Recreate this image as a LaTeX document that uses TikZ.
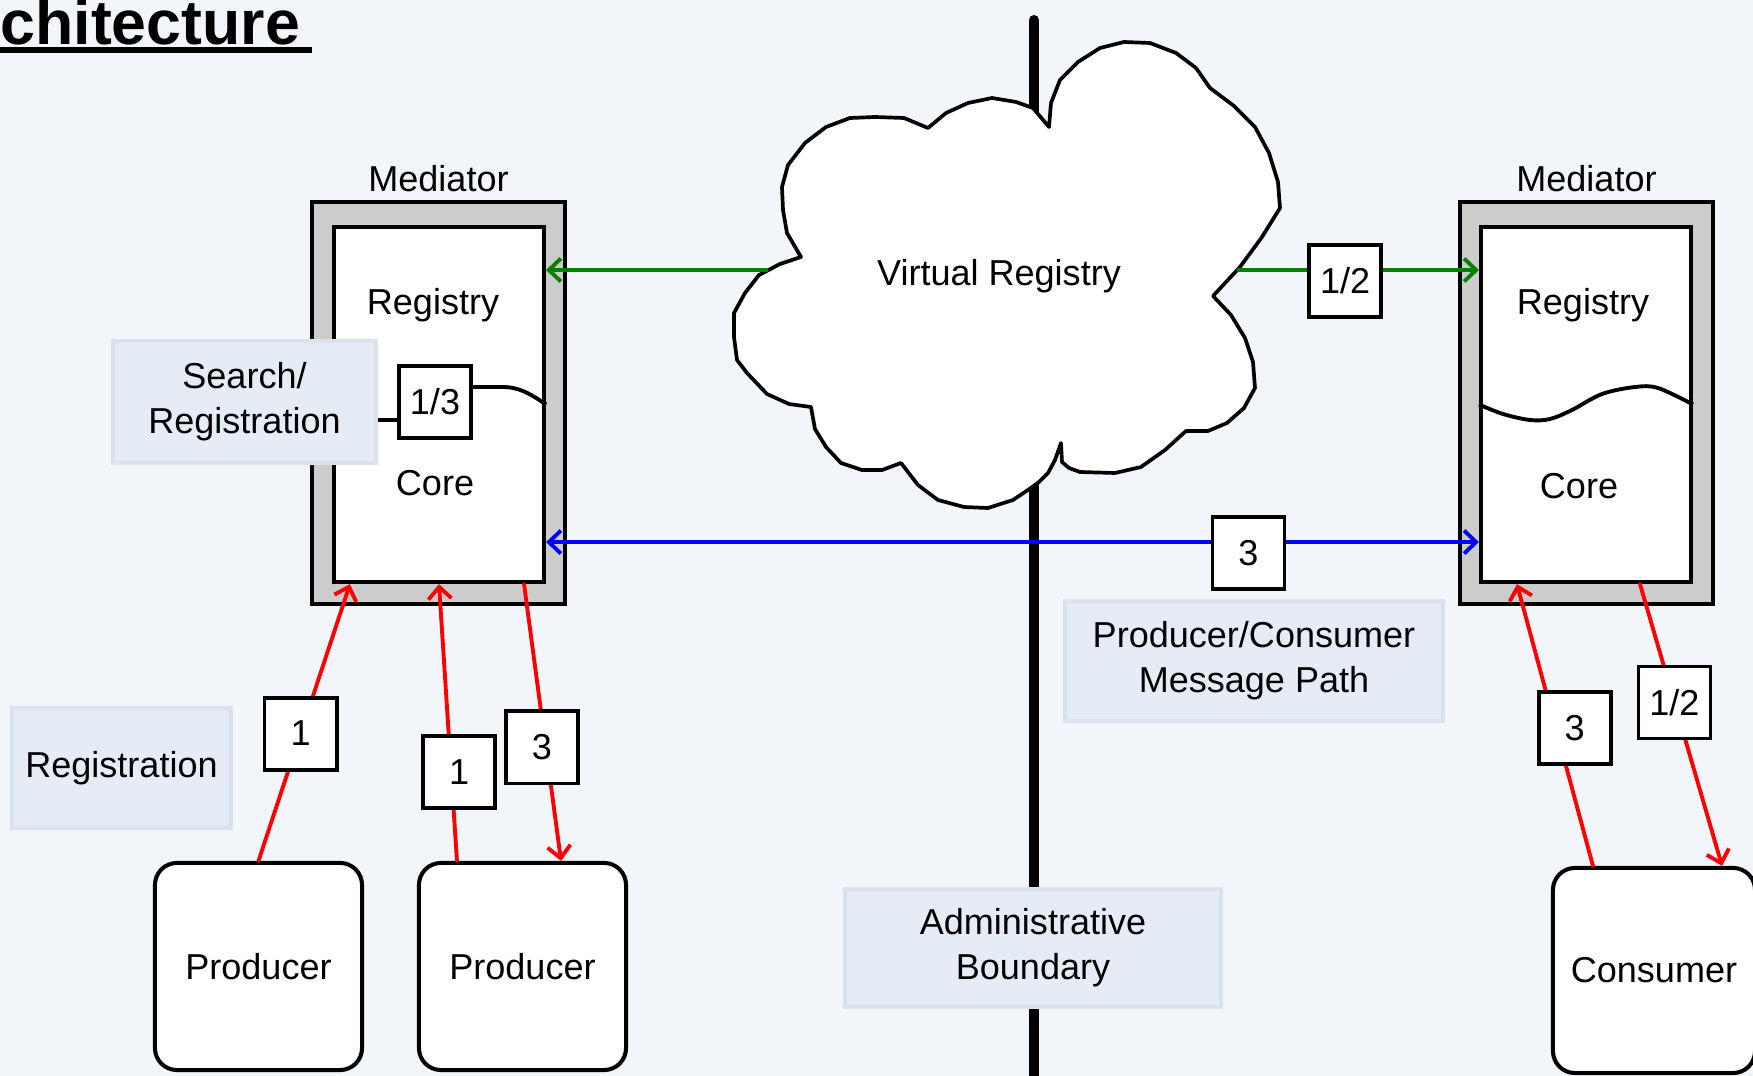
\documentclass[tikz,border=0pt]{standalone}
\usepackage{fontspec}
\setmainfont{Liberation Sans}
\usetikzlibrary{positioning, arrows.meta, calc}
\definecolor{paper}{HTML}{F2F5FA}
\definecolor{notefill}{HTML}{E6ECF6}
\definecolor{noteline}{HTML}{DAE2EF}
\definecolor{medgray}{HTML}{CCCCCC}
\definecolor{regreen}{HTML}{008000}
\tikzset{
  >={Straight Barb[length=1.2mm, width=2.3mm]},
  mediator/.style={draw, line width=1.15pt, fill=medgray, minimum width=2.53cm, minimum height=4.02cm},
  inner/.style={draw, line width=1.15pt, fill=white, minimum width=2.10cm, minimum height=3.55cm},
  numbox/.style={draw=black, text=black, line width=1.1pt, fill=white, minimum width=0.72cm, minimum height=0.72cm, inner sep=0pt},
  note/.style={draw=noteline, line width=1pt, fill=notefill, align=center, inner sep=0pt},
  endpoint/.style={draw, line width=1.15pt, fill=white, rounded corners=0.22cm, minimum width=2.07cm, minimum height=2.07cm},
  wave/.style={line width=1.1pt},
  msg/.style={line width=1.1pt, red, line cap=round},
  gflow/.style={line width=1.1pt, regreen},
  bflow/.style={line width=1.1pt, blue},
}

\begin{document}
\begin{tikzpicture}[x=0.01cm, y=-0.01cm, font=\fontsize{10.25pt}{12.7pt}\selectfont]
  \useasboundingbox (0,0) rectangle (1753,1076);
  \clip (0,0) rectangle (1753,1076);
  \fill[paper] (0,0) rectangle (1753,1076);

  \node[anchor=base west, inner sep=0pt, font=\fontsize{17.8pt}{20pt}\selectfont\bfseries] (title) at (0,45) {chitecture};
  \draw[line width=1.5pt] ([yshift=-0.05cm]title.base west) -- ++(312,0);

  \draw[line width=0.1cm, line cap=round] (1034,20) -- (1034,1100);

  \draw[line width=1.05pt, fill=white, line join=round]
    (1049,127) -- (1051,103) -- (1060,80) -- (1078,62) -- (1100,48) -- (1124,42) -- (1150,43) -- (1176,53)
    -- (1196,68) -- (1210,88) -- (1234,106) -- (1255,127) -- (1269,153) -- (1278,182) -- (1280,208)
    -- (1262,237) -- (1240,267) -- (1213,296) -- (1231,315) -- (1245,338) -- (1253,362) -- (1255,388)
    -- (1244,408) -- (1227,423) -- (1208,431) -- (1186,431) -- (1165,450) -- (1141,467) -- (1115,473)
    -- (1080,472) -- (1069,468) -- (1062,462) -- (1061,443) -- (1055,460) -- (1048,473) -- (1039,482)
    -- (1028,490) -- (1013,500) -- (988,508) -- (964,507) -- (938,500) -- (918,485) -- (901,463)
    -- (882,470) -- (862,470) -- (841,463) -- (826,447) -- (815,429) -- (811,407) -- (789,404)
    -- (767,394) -- (747,373) -- (737,360) -- (734,337) -- (734,313) -- (745,293) -- (759,275)
    -- (780,264) -- (801,257) -- (787,233) -- (783,210) -- (782,187) -- (788,165) -- (805,143)
    -- (826,127) -- (850,118) -- (875,117) -- (904,118) -- (928,128) -- (946,113) -- (968,103)
    -- (992,98) -- (1016,102) -- (1033,108) -- cycle;
  \node (vreg) at (999,276) {Virtual Registry};
  \coordinate (cloudW) at (768,270);
  \coordinate (cloudE) at (1237,270);

  \node[note, minimum width=2.19cm, minimum height=1.20cm] (regnote) at (121.5,768) {Registration};
  \node[note, minimum width=3.76cm, minimum height=1.18cm] (admin) at (1033,948) {Administrative\\Boundary};
  \node[note, minimum width=3.78cm, minimum height=1.20cm] (pcpath) at (1254,661) {Producer/Consumer\\Message Path};

  \node[mediator] (medL) at (438.5,403) {};
  \node[inner] (medLin) at (439,404.5) {};
  \node[above=0pt of medL, inner sep=2pt] (medLlab) {Mediator};
  \node (regL) at (433,305) {Registry};
  \node (coreL) at (435,483) {Core};
  \node[numbox] (n13) at (435,402) {1/3};
  \draw[wave] ([yshift=0.15cm]n13.east) -- ++(30,0) .. controls +(18,0) and +(-12,-8) .. (medLin.east);
  \node[note, minimum width=2.63cm, minimum height=1.22cm] (search) at (244.5,402) {Search/\\Registration};
  \draw[line width=1.1pt] ([yshift=-0.18cm]n13.west -| search.east) -- ([yshift=-0.18cm]n13.west);

  \node[mediator] (medR) at (1586.5,403) {};
  \node[inner] (medRin) at (1586,404.5) {};
  \node[above=0pt of medR, inner sep=2pt] (medRlab) {Mediator};
  \node (regR) at (1583,305) {Registry};
  \node (coreR) at (1579,486) {Core};
  \draw[wave] plot[smooth, tension=0.55] coordinates {(medRin.west) (1503,414) (1530,420) (1550,419) (1572,410) (1602,394) (1635,387) (1658,388) (medRin.east)};

  \node[endpoint] (prodA) at (258.5,966.5) {Producer};
  \node[endpoint] (prodB) at (522.5,966.5) {Producer};
  \node[endpoint, minimum width=2.02cm, minimum height=2.05cm] (cons) at (1654,970.5) {Consumer};

  \draw[gflow, ->] (cloudW) -- (cloudW -| medLin.east);
  \draw[gflow, ->] (cloudE) -- (cloudE -| medRin.west) node[numbox, pos=0.447, yshift=-0.11cm] {1/2};
  \draw[bflow, <->] ([yshift=-1.375cm]medLin.east) -- ([yshift=-1.375cm]medRin.west) node[numbox, pos=0.753, yshift=-0.11cm] {3};

  \draw[msg, ->] (prodA.north) -- ([xshift=-0.89cm]medLin.south) node[numbox, pos=0.46] {1};
  \draw[msg, ->] ([xshift=-0.655cm]prodB.north) -- (medLin.south) node[numbox, pos=0.32, xshift=0.08cm] {1};
  \draw[msg, ->] ([xshift=0.85cm]medLin.south) -- ([xshift=0.385cm]prodB.north) node[numbox, pos=0.59, xshift=-0.04cm] {3};
  \draw[msg, ->] ([xshift=-0.61cm]cons.north) -- ([xshift=-0.69cm]medRin.south) node[numbox, pos=0.49, xshift=0.19cm] {3};
  \draw[msg, ->] ([xshift=0.54cm]medRin.south) -- ([xshift=0.68cm]cons.north) node[numbox, pos=0.42] {1/2};
\end{tikzpicture}
\end{document}
